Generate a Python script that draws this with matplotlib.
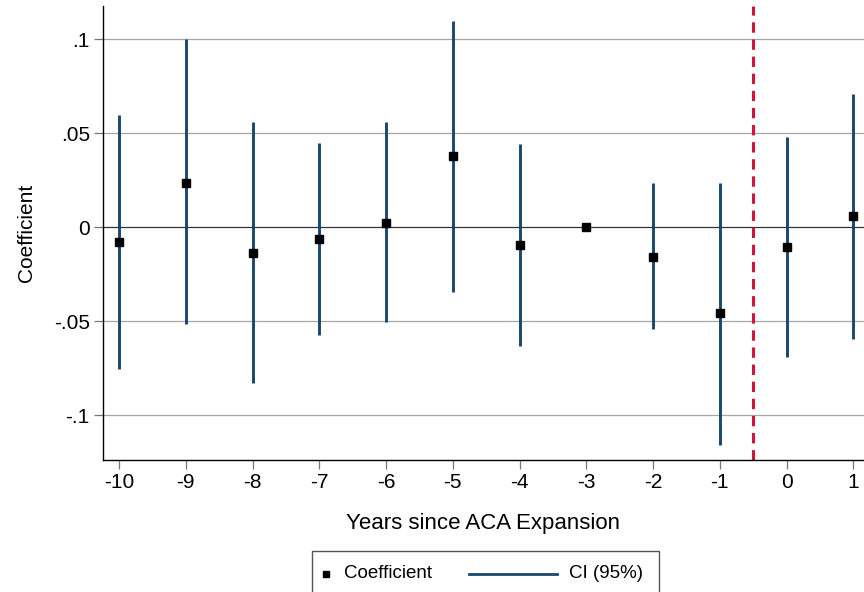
import matplotlib
matplotlib.use("Agg")
import matplotlib.pyplot as plt
from matplotlib.lines import Line2D
from matplotlib.patches import Rectangle

plt.rcParams["font.family"] = ["Liberation Sans", "DejaVu Sans"]

# event-study estimates, years relative to the ACA expansion
years = [-10, -9, -8, -7, -6, -5, -4, -3, -2, -1, 0, 1]
coef = [-0.0082, 0.0236, -0.0137, -0.0064, 0.0023, 0.0378, -0.0096, 0.0,
        -0.0158, -0.0459, -0.0105, 0.0059]
ci_low = [-0.0755, -0.0518, -0.0828, -0.0574, -0.0507, -0.0347, -0.0635, 0.0,
          -0.0544, -0.1160, -0.0690, -0.0594]
ci_high = [0.0594, 0.0998, 0.0559, 0.0449, 0.0557, 0.1098, 0.0443, 0.0,
           0.0232, 0.0236, 0.0477, 0.0706]
yticks = [-0.1, -0.05, 0, 0.05, 0.1]
ytick_labels = ["-.1", "-.05", "0", ".05", ".1"]
event_line = -0.5

navy = "#1a476f"
red = "#d2143a"

fig = plt.figure(figsize=(8.64, 5.92), dpi=100)
ax = fig.add_axes([103 / 864, 1 - 460 / 592, 1 - 103 / 864, (460 - 6) / 592])

for y in yticks:
    ax.axhline(y, color="#333333" if y == 0 else "#a6a6a6", lw=0.9, zorder=1)

ax.vlines(years, ci_low, ci_high, color=navy, lw=2.1, zorder=2)
ax.plot(years, coef, ls="none", marker="s", ms=6, color="black", zorder=3)
ax.axvline(event_line, color=red, lw=2.2, dashes=(3.4, 2.2), zorder=2)

ax.set_xlim(-10.24, 1.16)
ax.set_ylim(-0.1239, 0.1176)
ax.set_xticks(years)
ax.set_xticklabels([str(y) for y in years])
ax.set_yticks(yticks)
ax.set_yticklabels(ytick_labels)
ax.tick_params(axis="both", length=6.5, width=0.9, color="#777777",
               labelsize=15, pad=3)
for side in ["top", "right"]:
    ax.spines[side].set_visible(False)
for side in ["left", "bottom"]:
    ax.spines[side].set_linewidth(1.0)

ax.set_xlabel("Years since ACA Expansion", fontsize=16, labelpad=15)
ax.set_ylabel("Coefficient", fontsize=15, labelpad=13)

# legend box below the axis
fig.add_artist(Rectangle((312 / 864, 1 - 600 / 592), 347 / 864, 49 / 592,
                         transform=fig.transFigure, fill=False,
                         edgecolor="#555555", lw=1.0))
fig.add_artist(Line2D([326 / 864], [1 - 574 / 592], transform=fig.transFigure,
                      marker="s", ms=5, color="black", ls="none"))
fig.text(344 / 864, 1 - 573 / 592, "Coefficient", fontsize=13.5, va="center")
fig.add_artist(Line2D([469 / 864, 557 / 864], [1 - 574 / 592] * 2,
                      transform=fig.transFigure, color=navy, lw=2))
fig.text(569 / 864, 1 - 573 / 592, "CI (95%)", fontsize=13.5, va="center")

fig.savefig("out.png", dpi=100)
